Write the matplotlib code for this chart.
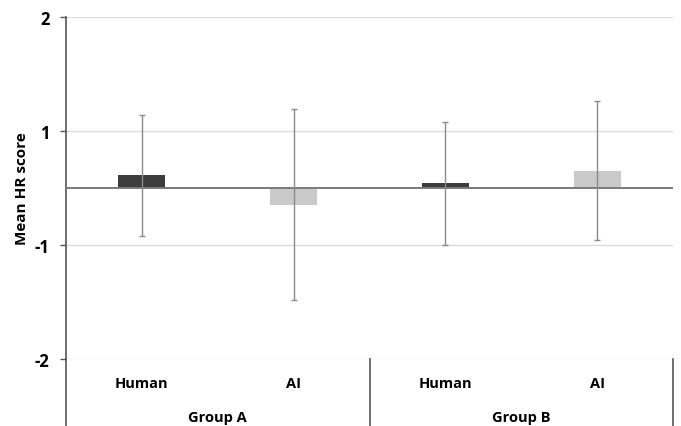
import numpy as np
import matplotlib
matplotlib.use('Agg')
import matplotlib.pyplot as plt
from matplotlib.lines import Line2D

plt.rcParams['font.family'] = ['Open Sans', 'DejaVu Sans']

categories = ['Human', 'AI', 'Human', 'AI']
groups = ['Group A', 'Group B']
means = [0.22, -0.29, 0.08, 0.30]
errors = [1.06, 1.68, 1.08, 1.22]
bar_colors = ['#3c3c3c', '#c9c9c9', '#3c3c3c', '#c9c9c9']
tick_pos = [3, 1, -1, -3]
tick_labels = ['2', '1', '-1', '-2']

fig = plt.figure(figsize=(6.81, 4.27), dpi=100)
ax = fig.add_axes([66/681, 67/427, 607/681, 342/427])

x = np.arange(len(categories))
ax.bar(x, means, width=0.31, color=bar_colors, zorder=3)
ax.errorbar(x, means, yerr=errors, fmt='none', ecolor='#8a8a8a',
            elinewidth=1, capsize=2.5, capthick=1, zorder=4)
ax.axhline(0, color='#7a7a7a', lw=1.4, zorder=3)

ax.set_xlim(-0.5, 3.5)
ax.set_ylim(-3, 3)
ax.set_yticks(tick_pos)
ax.set_yticklabels(tick_labels, fontsize=12, fontweight='bold')
ax.tick_params(axis='y', length=4, width=1, color='#555555', pad=8)
ax.set_xticks([])
for t in tick_pos:
    ax.axhline(t, color='#dcdcdc', lw=1, zorder=1)

for s in ['top', 'right', 'bottom']:
    ax.spines[s].set_visible(False)
ax.spines['left'].set_color('#555555')
ax.spines['left'].set_linewidth(1.2)

ax.set_ylabel('Mean HR score', fontsize=11, fontweight='bold', labelpad=4)

# category area below the plot
trans = ax.get_xaxis_transform()
ax.add_line(Line2D([-0.5, -0.5], [0, -0.2], transform=trans, color='#555555',
                   lw=1.2, clip_on=False))
for xs in [1.5, 3.5]:
    ax.add_line(Line2D([xs, xs], [0, -0.2], transform=trans, color='#555555',
                       lw=1.2, clip_on=False))
for i, c in enumerate(categories):
    ax.text(x[i], -0.07, c, transform=trans, ha='center', va='center',
            fontsize=10.5, fontweight='bold')
for j, g in enumerate(groups):
    ax.text(2*j + 0.5, -0.17, g, transform=trans, ha='center', va='center',
            fontsize=10.5, fontweight='bold')

fig.savefig('out.png', dpi=100)
